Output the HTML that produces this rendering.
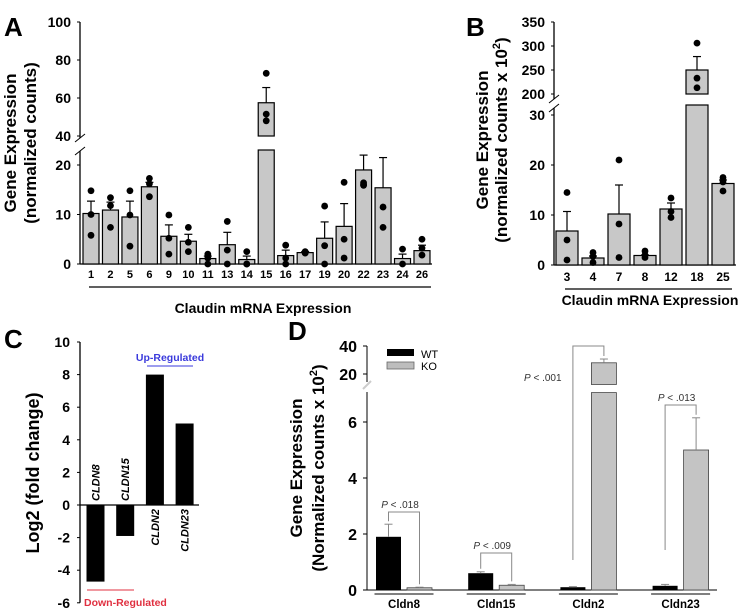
<!DOCTYPE html>
<html><head><meta charset="utf-8">
<style>
html,body{margin:0;padding:0;background:#fff;}
svg{display:block;font-family:"Liberation Sans",Arial,sans-serif;}
.b{font-weight:bold;}
</style></head>
<body>
<svg id="fig" width="746" height="611" viewBox="0 0 746 611" xmlns="http://www.w3.org/2000/svg"></svg>
<script>
// ---------- Panel A data ----------
const aCats = ["1","2","5","6","9","10","11","13","14","15","16","17","19","20","22","23","24","26"];
const aMeans = [10.2,10.9,9.5,15.6,5.6,4.6,1.1,3.9,0.9,57.5,1.7,2.3,5.2,7.6,19,15.4,1.1,2.7];
const aErr = [12.7,12.5,12.7,16.5,7.9,6,1.6,6.4,1.6,65.5,2.8,2.5,8.5,12.2,22,21.5,2,3.8];
const aDots = [[14.8,10,5.8],[13.4,11.8,7.4],[14.8,9.9,3.6],[17.3,16.2,13.6],[9.9,5.2,2],[7.4,4.4,2.5],[2,1.2,0],[8.6,2.8,0],[2.5,0,0],[73,51.5,48],[3.8,1.2,0],[2.5,2.3,2.2],[11.7,3.7,0],[16.5,5,1.2],[16.4,16,15.9],[11.5,7.4],[3,0],[5,3.2,1.8]];
const aTicks = [0,10,20,40,60,80,100];
// ---------- Panel B data ----------
const bCats = ["3","4","7","8","12","18","25"];
const bMeans = [6.8,1.4,10.2,1.9,11.2,250,16.3];
const bErr = [10.7,1.8,16,2,12.4,278,17];
const bDots = [[14.5,5,1],[2.5,1.7,0.5],[21,8.2,1.5],[2.8,2,1.5],[13.4,10.7,9.5],[306,233,213],[17.5,16.6,14.8]];
const bTicks = [0,10,20,30,200,250,300,350];
// ---------- Panel C data ----------
const cCats = ["CLDN8","CLDN15","CLDN2","CLDN23"];
const cVals = [-4.7,-1.9,8,5];
const cTicks = [-6,-4,-2,0,2,4,6,8,10];
// ---------- Panel D data ----------
const dCats = ["Cldn8","Cldn15","Cldn2","Cldn23"];
const dWT = [1.9,0.6,0.1,0.15];
const dWTerr = [2.35,0.65,0.12,0.2];
const dKO = [0.08,0.17,28,5.0];
const dKOerr = [0.1,0.2,30.7,6.15];
const dPvals = ["P < .018","P < .009","P < .001","P < .013"];
const dTicks = [0,2,4,6,20,40];

const NS="http://www.w3.org/2000/svg";
const svg=document.getElementById('fig');
function el(tag,attrs,parent,text){const e=document.createElementNS(NS,tag);for(const k in attrs)e.setAttribute(k,attrs[k]);if(text!==undefined)e.textContent=text;(parent||svg).appendChild(e);return e;}
function grp(name){const g=el('g',{});return g;}

// ===== Panel A =====
(function(){
const g=grp('panel-a');
const ya=v=>v<=25?264-v*4.95:136-(v-40)*1.9;
const ax=80;
let t=el('text',{x:4,y:36,'font-size':26,class:'b'},g,'A');
el('line',{x1:ax,y1:22,x2:ax,y2:138,stroke:'#000','stroke-width':1.3},g);
el('line',{x1:ax,y1:151,x2:ax,y2:264,stroke:'#000','stroke-width':1.3},g);
el('line',{x1:ax-5,y1:142,x2:ax+5,y2:134,stroke:'#000','stroke-width':1},g);
el('line',{x1:ax-5,y1:155,x2:ax+5,y2:147,stroke:'#000','stroke-width':1},g);
el('line',{x1:ax,y1:264,x2:432,y2:264,stroke:'#000','stroke-width':1.3},g);
aTicks.forEach(v=>{const y=ya(v);el('line',{x1:ax-3,y1:y,x2:ax,y2:y,stroke:'#000'},g);
 const tt=el('text',{x:ax-9,y:y+5,'font-size':14,'text-anchor':'end',class:'b'},g,v);});
const x0=91,dx=19.47,w=16;
aCats.forEach((c,i)=>{const cx=x0+i*dx,m=aMeans[i];
 if(m>25){
  const r1=el('rect',{x:cx-w/2,y:150,width:w,height:264-150,fill:'#c8c8c8',stroke:'#000','stroke-width':1.2},g);
  const r2=el('rect',{x:cx-w/2,y:ya(m),width:w,height:ya(40)-ya(m),fill:'#c8c8c8',stroke:'#000','stroke-width':1.2},g);
 } else {
  const r=el('rect',{x:cx-w/2,y:ya(m),width:w,height:264-ya(m),fill:'#c8c8c8',stroke:'#000','stroke-width':1.2},g);
 }
 el('line',{x1:cx,y1:ya(m),x2:cx,y2:ya(aErr[i]),stroke:'#000','stroke-width':1.2},g);
 el('line',{x1:cx-4,y1:ya(aErr[i]),x2:cx+4,y2:ya(aErr[i]),stroke:'#000','stroke-width':1.2},g);
 aDots[i].forEach(d=>{const p=el('circle',{cx:cx,cy:ya(d),r:3.4,fill:'#000'},g);});
 const tl=el('text',{x:cx,y:278,'font-size':11,'text-anchor':'middle',class:'b'},g,c);
});
el('line',{x1:89,y1:287,x2:431,y2:287,stroke:'#000','stroke-width':1.2},g);
t=el('text',{x:263,y:313,'font-size':14,'text-anchor':'middle',class:'b'},g,'Claudin mRNA Expression');
t=el('text',{transform:'translate(16,143) rotate(-90)','font-size':17,'text-anchor':'middle',class:'b'},g,'Gene Expression');
t=el('text',{transform:'translate(36,143) rotate(-90)','font-size':17,'text-anchor':'middle',class:'b'},g,'(normalized counts)');
})();

// ===== Panel B =====
(function(){
const g=grp('panel-b');
const yb=v=>v<=32?265-v*5:94-(v-200)*0.48;
const ax=554;
let t=el('text',{x:466,y:36,'font-size':26,class:'b'},g,'B');
el('line',{x1:ax,y1:22,x2:ax,y2:99,stroke:'#000','stroke-width':1.3},g);
el('line',{x1:ax,y1:108,x2:ax,y2:265,stroke:'#000','stroke-width':1.3},g);
el('line',{x1:ax-5,y1:103,x2:ax+5,y2:95,stroke:'#000'},g);
el('line',{x1:ax-5,y1:112,x2:ax+5,y2:104,stroke:'#000'},g);
el('line',{x1:ax,y1:265,x2:736,y2:265,stroke:'#000','stroke-width':1.3},g);
bTicks.forEach(v=>{const y=yb(v);el('line',{x1:ax-3,y1:y,x2:ax,y2:y,stroke:'#000'},g);
 const tt=el('text',{x:ax-9,y:y+5,'font-size':14,'text-anchor':'end',class:'b'},g,v);});
const x0=567,dx=26,w=22;
bCats.forEach((c,i)=>{const cx=x0+i*dx,m=bMeans[i];
 if(m>32){
  const r1=el('rect',{x:cx-w/2,y:yb(32),width:w,height:265-yb(32),fill:'#c8c8c8',stroke:'#000','stroke-width':1.2},g);
  const r2=el('rect',{x:cx-w/2,y:yb(m),width:w,height:yb(200)-yb(m),fill:'#c8c8c8',stroke:'#000','stroke-width':1.2},g);
 } else {
  const r=el('rect',{x:cx-w/2,y:yb(m),width:w,height:265-yb(m),fill:'#c8c8c8',stroke:'#000','stroke-width':1.2},g);
 }
 el('line',{x1:cx,y1:yb(m),x2:cx,y2:yb(bErr[i]),stroke:'#000','stroke-width':1.2},g);
 el('line',{x1:cx-4,y1:yb(bErr[i]),x2:cx+4,y2:yb(bErr[i]),stroke:'#000','stroke-width':1.2},g);
 bDots[i].forEach(d=>{const p=el('circle',{cx:cx,cy:yb(d),r:3.4,fill:'#000'},g);});
 const tl=el('text',{x:cx,y:281,'font-size':12,'text-anchor':'middle',class:'b'},g,c);
});
el('line',{x1:565,y1:289,x2:732,y2:289,stroke:'#000','stroke-width':1.2},g);
t=el('text',{x:650,y:305,'font-size':14,'text-anchor':'middle',class:'b'},g,'Claudin mRNA Expression');
t=el('text',{transform:'translate(488,140) rotate(-90)','font-size':17,'text-anchor':'middle',class:'b'},g,'Gene Expression');
t=el('text',{transform:'translate(507,140) rotate(-90)','font-size':17,'text-anchor':'middle',class:'b'},g);
el('tspan',{},t,'(normalized counts x 10');el('tspan',{'font-size':11,dy:-7},t,'2');el('tspan',{dy:7},t,')');
})();

// ===== Panel C =====
(function(){
const g=grp('panel-c');
const yc=v=>505-v*16.3;
const ax=80;
let t=el('text',{x:4,y:348,'font-size':26,class:'b'},g,'C');
el('line',{x1:ax,y1:yc(10),x2:ax,y2:yc(-6),stroke:'#000','stroke-width':1.3},g);
el('line',{x1:ax,y1:yc(0),x2:199,y2:yc(0),stroke:'#000','stroke-width':1.3},g);
cTicks.forEach(v=>{const y=yc(v);el('line',{x1:ax-3,y1:y,x2:ax,y2:y,stroke:'#000'},g);
 const tt=el('text',{x:ax-10,y:y+5,'font-size':14,'text-anchor':'end',class:'b'},g,v);});
const x0=95.5,dx=29.7,w=18;
cCats.forEach((c,i)=>{const cx=x0+i*dx,v=cVals[i];
 const y1=Math.min(yc(v),yc(0)),h=Math.abs(yc(v)-yc(0));
 const r=el('rect',{x:cx-w/2,y:y1,width:w,height:h,fill:'#000'},g);
 const ly=v<0?yc(0)-4:yc(0)+4;
 const tl=el('text',{transform:`translate(${cx+4},${ly}) rotate(-90)`,'font-size':11,'font-style':'italic','font-weight':'bold','text-anchor':v<0?'start':'end'},g,c);
});
el('line',{x1:147,y1:366,x2:193,y2:366,stroke:'#3a3adc','stroke-width':1},g);
t=el('text',{x:170,y:361,'font-size':10.5,'text-anchor':'middle',fill:'#3a3adc',class:'b'},g,'Up-Regulated');
el('line',{x1:87,y1:590,x2:134,y2:590,stroke:'#e03040','stroke-width':1},g);
t=el('text',{x:84,y:606,'font-size':10.5,fill:'#e03040',class:'b'},g,'Down-Regulated');
t=el('text',{transform:'translate(39,473) rotate(-90)','font-size':18,'text-anchor':'middle',class:'b'},g,'Log2 (fold change)');
})();

// ===== Panel D =====
(function(){
const g=grp('panel-d');
const yd=v=>v<=8?590-v*28:374-(v-20)*1.4;
const ax=367;
let t=el('text',{x:288,y:340,'font-size':26,class:'b'},g,'D');
el('line',{x1:ax,y1:346,x2:ax,y2:382,stroke:'#000','stroke-width':1},g);
el('line',{x1:ax,y1:392,x2:ax,y2:590,stroke:'#000','stroke-width':1},g);
el('line',{x1:ax-4,y1:389,x2:ax+4,y2:381,stroke:'#ccc','stroke-width':2},g);
el('line',{x1:ax,y1:590,x2:717,y2:590,stroke:'#000','stroke-width':1},g);
dTicks.forEach(v=>{const y=yd(v);el('line',{x1:ax-4,y1:y,x2:ax,y2:y,stroke:'#000'},g);
 const tt=el('text',{x:ax-10,y:y+6,'font-size':16,'text-anchor':'end',class:'b'},g,v);});
// legend
let r=el('rect',{x:387,y:349,width:27,height:7,fill:'#000'},g);
r=el('rect',{x:387,y:362,width:27,height:7,fill:'#bdbdbd',stroke:'#666','stroke-width':0.8},g);
t=el('text',{x:421,y:358,'font-size':11},g,'WT');
t=el('text',{x:421,y:370,'font-size':11},g,'KO');
const g0=388.5,gdx=92.2,w=25,gap=6;
const pY=[512,553,346,405];
dCats.forEach((c,i)=>{const wx=g0+i*gdx,kx=wx+w+gap;
 r=el('rect',{x:wx-w/2,y:yd(dWT[i]),width:w,height:590-yd(dWT[i]),fill:'#000'},g);
 el('line',{x1:wx,y1:yd(dWT[i]),x2:wx,y2:yd(dWTerr[i]),stroke:'#888'},g);
 el('line',{x1:wx-4,y1:yd(dWTerr[i]),x2:wx+4,y2:yd(dWTerr[i]),stroke:'#888'},g);
 const k=dKO[i];
 if(k>8){
  r=el('rect',{x:kx-w/2,y:yd(7.05),width:w,height:590-yd(7.05),fill:'#c4c4c4',stroke:'#444','stroke-width':0.8},g);
  r=el('rect',{x:kx-w/2,y:yd(k),width:w,height:yd(12.5)-yd(k),fill:'#c4c4c4',stroke:'#444','stroke-width':0.8},g);
 } else {
  r=el('rect',{x:kx-w/2,y:yd(k),width:w,height:590-yd(k),fill:'#c4c4c4',stroke:'#444','stroke-width':0.8},g);
 }
 el('line',{x1:kx,y1:yd(k),x2:kx,y2:yd(dKOerr[i]),stroke:'#888'},g);
 el('line',{x1:kx-4,y1:yd(dKOerr[i]),x2:kx+4,y2:yd(dKOerr[i]),stroke:'#888'},g);
 // brackets
 const by=pY[i];
 const lEnd=i>=2?560-(i-2)*10:yd(dWTerr[i])-3;
 const rEnd=yd(dKOerr[i])-3;
 const br=el('path',{d:`M${wx},${lEnd} L${wx},${by} L${kx},${by} L${kx},${Math.max(rEnd,by)}`,fill:'none',stroke:'#888','stroke-width':1},g);
 const px=i===2?524:(wx+kx)/2-4;const py=i===2?381:by-4;
 t=el('text',{x:px,y:py,'font-size':10,'text-anchor':i===2?'start':'middle',fill:'#333'},g);
 el('tspan',{'font-style':'italic'},t,'P');el('tspan',{},t,dPvals[i].slice(1));
 el('line',{x1:wx-14,y1:594,x2:kx+14,y2:594,stroke:'#000'},g);
 t=el('text',{x:(wx+kx)/2,y:608,'font-size':11.5,'text-anchor':'middle',class:'b'},g,c);
});
t=el('text',{transform:'translate(302,468) rotate(-90)','font-size':17,'text-anchor':'middle',class:'b'},g,'Gene Expression');
t=el('text',{transform:'translate(324,468) rotate(-90)','font-size':17,'text-anchor':'middle',class:'b'},g);
el('tspan',{},t,'(Normalized counts x 10');el('tspan',{'font-size':11,dy:-7},t,'2');el('tspan',{dy:7},t,')');
})();
</script>
</body></html>
